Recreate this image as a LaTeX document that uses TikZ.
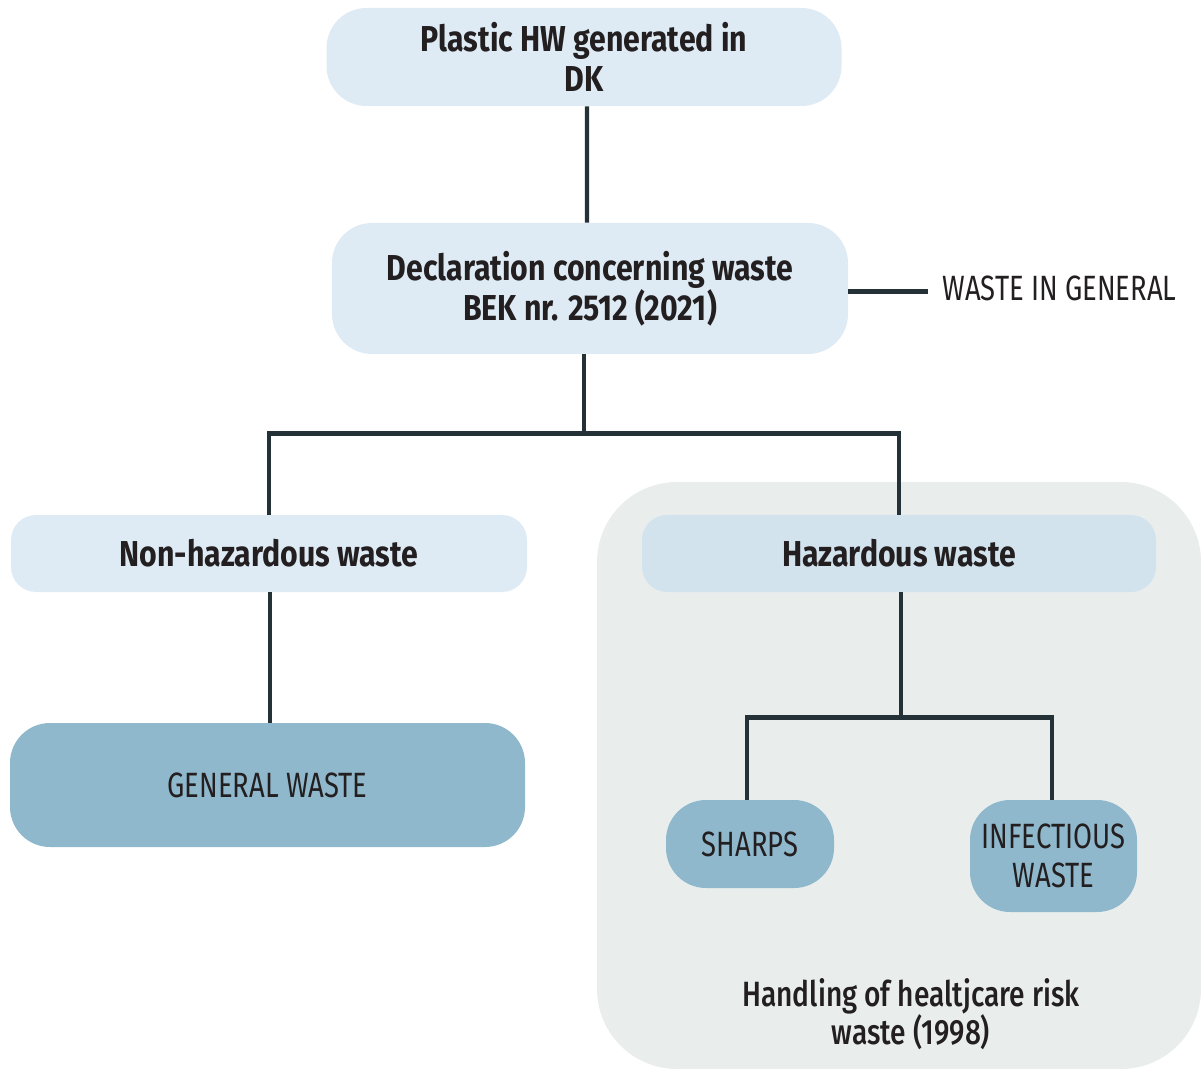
\documentclass[tikz,border=0pt]{standalone}
\usepackage{fontspec}
\setmainfont{Fira Sans}[FakeStretch=0.84]
\newfontfamily\capfont{Fira Sans}[FakeStretch=0.78]
\newfontfamily\medfont{Fira Sans Medium}[FakeStretch=0.8]
\usepackage{tikz}
\usetikzlibrary{positioning, calc, backgrounds}

\definecolor{paleblue}{HTML}{DEEBF5}
\definecolor{hazblue}{HTML}{D3E3EE}
\definecolor{deepblue}{HTML}{90B8CC}
\definecolor{riskgray}{HTML}{E9EEED}
\definecolor{linkcol}{HTML}{243238}
\definecolor{inkcol}{HTML}{231F20}

\begin{document}
\begin{tikzpicture}[
  font=\fontsize{19}{22}\selectfont,
  text=inkcol,
  head/.style={fill=paleblue, rounded corners=0.8cm, align=center,
    font=\fontsize{20.5}{22.5}\selectfont\bfseries, inner sep=0pt},
  leaf/.style={fill=deepblue, rounded corners=0.8cm, align=center,
    font=\fontsize{20}{22}\selectfont\capfont, inner sep=0pt},
  link/.style={draw=linkcol, line width=2.5pt},
]
  \useasboundingbox (0,0) rectangle (24.02,21.38);

  % grey area of the 1998 order
  \fill[riskgray] (11.94,0) [rounded corners=1.6cm] rectangle (24.02,11.74);
  \node[font=\fontsize{20}{22}\selectfont\medfont, align=center] (order) at (18.22,1.1)
    {Handling of healtjcare risk\\waste (1998)};

  \node[head, minimum width=10.3cm, minimum height=1.96cm] (plastic) at (11.68,20.24)
    {Plastic HW generated in\\DK};
  \node[head, minimum width=10.32cm, minimum height=2.62cm] (decl) at (11.8,15.61)
    {Declaration concerning waste\\BEK nr. 2512 (2021)};
  \node[font=\fontsize{20}{22}\selectfont\capfont, anchor=west, inner sep=0pt] (general) at (18.84,15.62)
    {WASTE IN GENERAL};

  \node[head, rounded corners=0.5cm, minimum width=10.32cm, minimum height=1.54cm] (nonhaz) at (5.38,10.31)
    {Non-hazardous waste};
  \node[head, fill=hazblue, rounded corners=0.5cm, minimum width=10.28cm, minimum height=1.54cm] (haz) at (17.98,10.31)
    {Hazardous waste};

  \node[leaf, minimum width=10.3cm, minimum height=2.48cm] (genwaste) at (5.35,5.68)
    {GENERAL WASTE};
  \node[leaf, minimum width=3.36cm, minimum height=1.76cm] (sharps) at (15.0,4.5)
    {SHARPS};
  \node[leaf, minimum width=3.34cm, minimum height=2.24cm] (infect) at (21.07,4.26)
    {INFECTIOUS\\WASTE};

  % connectors
  \coordinate (split) at ($(decl.south)+(-0.12,-1.58)$);
  \coordinate (hazsplit) at ($(haz.south)+(0.04,-2.5)$);
  \draw[link] ($(plastic.south)+(0.06,0)$) -- ($(decl.north)+(-0.06,0)$);
  \draw[link] ($(decl.east)+(0,-0.06)$) -- ++(1.6,0) coordinate (genend);
  \draw[link] ($(decl.south)+(-0.12,0)$) -- (split);
  \draw[link] (split) -| (nonhaz.north);
  \draw[link] (split) -| (haz.north);
  \draw[link] ($(nonhaz.south)+(0.02,0)$) -- ($(genwaste.north)+(0.05,0)$);
  \draw[link] ($(haz.south)+(0.04,0)$) -- (hazsplit);
  \draw[link] (hazsplit) -| ($(sharps.north)+(-0.06,0)$);
  \draw[link] (hazsplit) -| ($(infect.north)+(-0.03,0)$);
\end{tikzpicture}
\end{document}
